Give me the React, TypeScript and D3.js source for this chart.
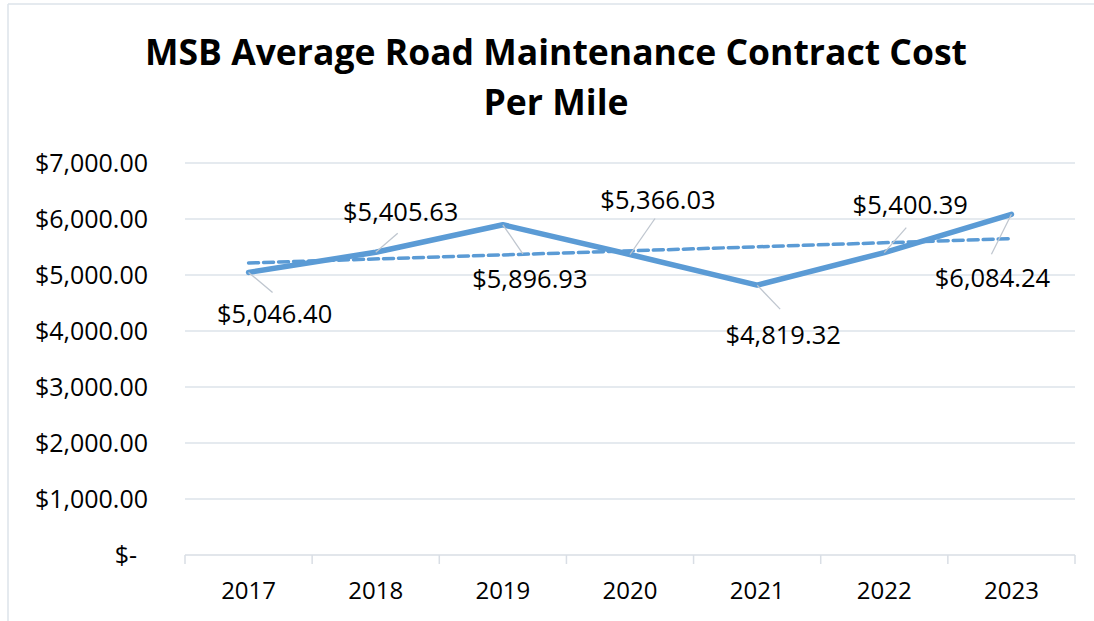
import React from "react";
import * as d3 from "d3";

const years = ["2017", "2018", "2019", "2020", "2021", "2022", "2023"];
const costs = [5046.4, 5405.63, 5896.93, 5366.03, 4819.32, 5400.39, 6084.24];
const yTicks = [0, 1000, 2000, 3000, 4000, 5000, 6000, 7000];
const titleLines = ["MSB Average Road Maintenance Contract Cost", "Per Mile"];

// label placement offsets (px) relative to the point: [leader end dx, dy, text dx, text baseline dy]
const labelOffsets: [number, number, number, number][] = [
  [24, 20, 26, 51],
  [22, -19, 25, -31],
  [20, 29, 27, 63],
  [25, -36, 28, -46],
  [23, 24, 26, 59],
  [22, -25, 26, -39],
  [-20, 40, -19, 73],
];
const titleWidths = [822, 145];

const W = 1094, H = 621;
const M = { left: 185, right: 1075, top: 163, bottom: 555 };
const FONT = "'Open Sans', sans-serif";

export default function App() {
  const x = d3.scaleBand<string>().domain(years).range([M.left, M.right]);
  const y = d3.scaleLinear().domain([0, 7000]).range([M.bottom, M.top]);
  const cx = (d: string) => (x(d) as number) + x.bandwidth() / 2;

  const line = d3.line<number>().x((_, i) => cx(years[i])).y((v) => y(v));

  // linear trendline (least squares), as Excel draws it
  const xs = costs.map((_, i) => i + 1);
  const mx = d3.mean(xs) as number;
  const my = d3.mean(costs) as number;
  const slope =
    d3.sum(xs.map((xi, i) => (xi - mx) * (costs[i] - my))) /
    d3.sum(xs.map((xi) => (xi - mx) ** 2));
  const icpt = my - slope * mx;
  const t0 = icpt + slope * 1;
  const t1 = icpt + slope * years.length;

  const fmt = d3.format(",.2f");
  const fmtTick = (v: number) => (v === 0 ? "$-" : "$" + fmt(v));

  return (
    <svg width={W} height={H} style={{ position: "absolute", left: 0, top: 0, background: "#fff" }}>
      <line x1={8} y1={4} x2={W} y2={4} stroke="#dde3ea" strokeWidth={1.5} />
      <line x1={8} y1={4} x2={8} y2={H} stroke="#dde3ea" strokeWidth={1.5} />
      {titleLines.map((t, i) => (
        <text key={i} x={556} y={65 + i * 50} textAnchor="middle" fontFamily={FONT}
          fontWeight="bold" fontSize={36} fill="#000"
          textLength={titleWidths[i]} lengthAdjust="spacingAndGlyphs">{t}</text>
      ))}
      {yTicks.map((v) => (
        <g key={v}>
          {v > 0 && (
            <line x1={M.left} x2={M.right} y1={y(v)} y2={y(v)} stroke="#dde3ea" strokeWidth={1.5} />
          )}
          <text x={v === 0 ? 137 : 148} y={y(v) + 8.5} textAnchor="end" fontFamily={FONT}
            fontSize={25} fill="#000">{fmtTick(v)}</text>
        </g>
      ))}
      <line x1={M.left} x2={M.right} y1={M.bottom} y2={M.bottom} stroke="#d9dee5" strokeWidth={1.5} />
      {[...years.map((d) => x(d) as number), M.right].map((xv, i) => (
        <line key={i} x1={xv} x2={xv} y1={M.bottom} y2={M.bottom + 9} stroke="#d9dee5" strokeWidth={1.5} />
      ))}
      {years.map((d) => (
        <text key={d} x={cx(d)} y={599} textAnchor="middle" fontFamily={FONT} fontSize={24} fill="#000">{d}</text>
      ))}
      <path d={line(costs) as string} fill="none" stroke="#5b9bd5" strokeWidth={5.5} strokeLinejoin="round" strokeLinecap="round" />
      <line x1={cx(years[0])} y1={y(t0)} x2={cx(years[years.length - 1])} y2={y(t1)}
        stroke="#5b9bd5" strokeWidth={3.5} strokeDasharray="10 5" strokeLinecap="round" />
      {costs.map((v, i) => {
        const px = cx(years[i]);
        const py = y(v);
        const [lx, ly, tx, ty] = labelOffsets[i];
        return (
          <g key={i}>
            <line x1={px} y1={py} x2={px + lx} y2={py + ly} stroke="#bfc6cf" strokeWidth={1.3} />
            <text x={px + tx} y={py + ty} textAnchor="middle" fontFamily={FONT} fontSize={25.5} fill="#000">
              {"$" + fmt(v)}
            </text>
          </g>
        );
      })}
    </svg>
  );
}
